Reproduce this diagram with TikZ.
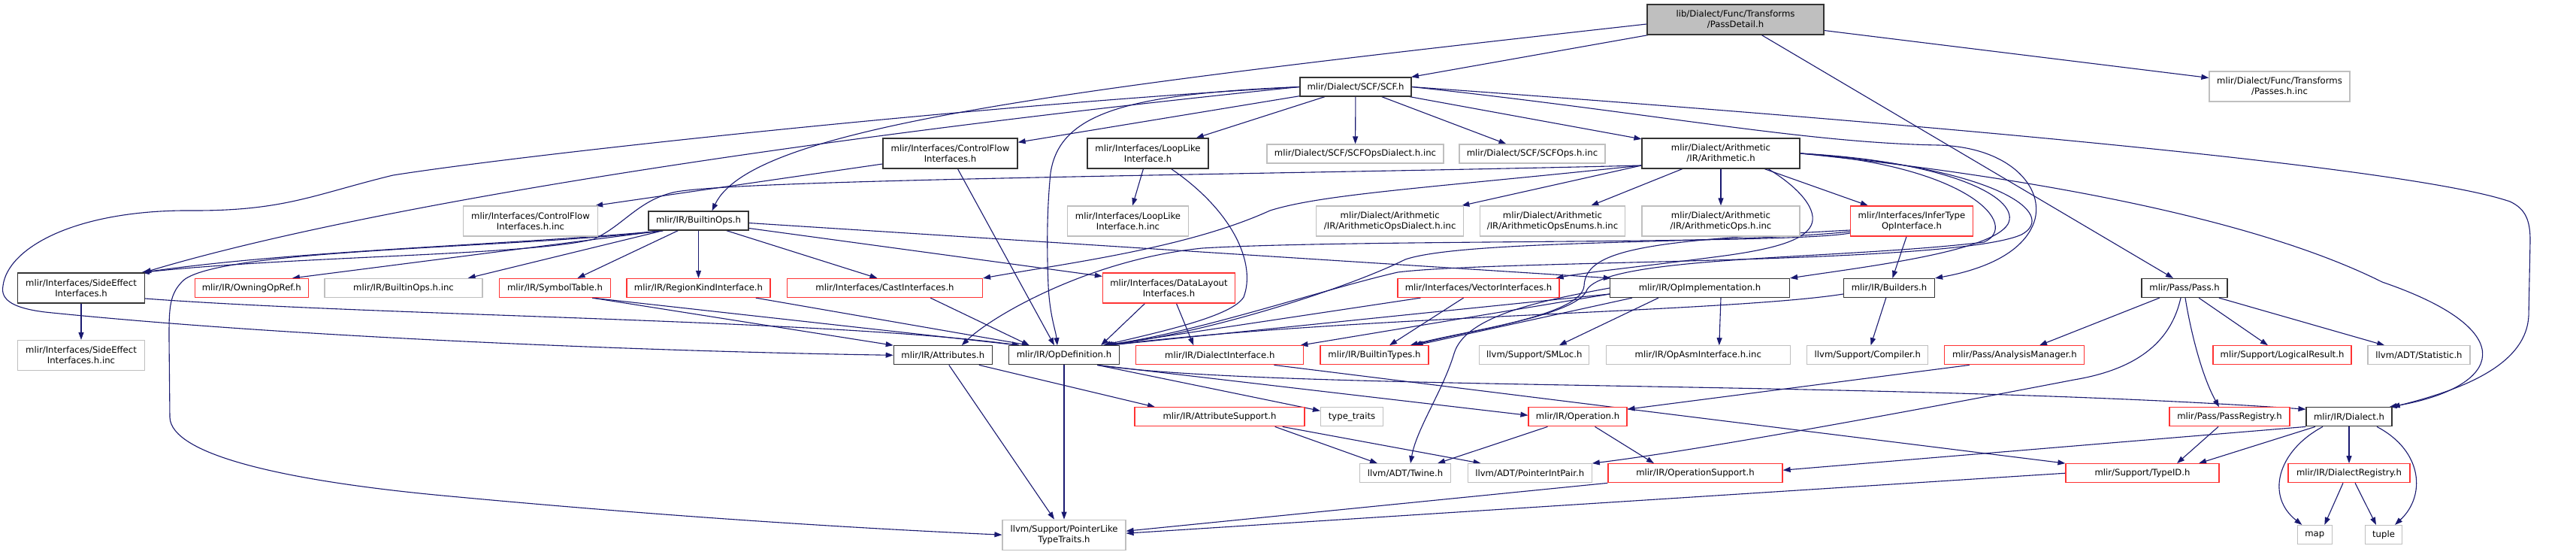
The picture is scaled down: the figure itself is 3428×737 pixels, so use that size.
\documentclass[tikz,border=0pt]{standalone}
\usepackage{fontspec}
\setmainfont{DejaVu Sans}
\usetikzlibrary{arrows.meta}
\definecolor{edgec}{HTML}{191970}
\definecolor{grayb}{HTML}{BFBFBF}
\definecolor{redb}{HTML}{FF3333}
\pgfdeclarelayer{bgl}
\pgfdeclarelayer{edl}
\pgfsetlayers{bgl,edl,main}
\begin{document}
\begin{tikzpicture}[x=1pt,y=-1pt,
  base/.style={draw, line width=1.2pt, inner sep=0pt, align=center, fill=white, text=black,
    font=\fontsize{11.67}{14}\selectfont},
  blk/.style={base, draw=black!80},
  gry/.style={base, draw=grayb},
  rd/.style={base, draw=redb},
  root/.style={base, draw=black!80, fill=grayb},
  e/.style={draw=edgec, line width=1.1pt, -{Triangle[length=10pt,width=7pt]}}]
\begin{pgfonlayer}{bgl}
\fill[white] (0,0) rectangle (3428,737);
\end{pgfonlayer}
\useasboundingbox (0,0) rectangle (3428,737);

% row 1-2
\node[root, minimum width=235pt, minimum height=40pt] (PD) at (2309.5,26) {lib/Dialect/Func/Transforms\\/PassDetail.h};
\node[blk, minimum width=148pt, minimum height=25pt] (SCF) at (1804,115.5) {mlir/Dialect/SCF/SCF.h};
\node[gry, minimum width=187pt, minimum height=40pt] (PINC) at (3033.5,115) {mlir/Dialect/Func/Transforms\\/Passes.h.inc};
% row 3
\node[blk, minimum width=179pt, minimum height=40pt] (CF) at (1264.5,204) {mlir/Interfaces/ControlFlow\\Interfaces.h};
\node[blk, minimum width=161pt, minimum height=40pt] (LL) at (1527.5,204) {mlir/Interfaces/LoopLike\\Interface.h};
\node[gry, minimum width=235pt, minimum height=25pt] (SCFD) at (1803.5,204.5) {mlir/Dialect/SCF/SCFOpsDialect.h.inc};
\node[gry, minimum width=194pt, minimum height=25pt] (SCFO) at (2039,204.5) {mlir/Dialect/SCF/SCFOps.h.inc};
\node[blk, minimum width=210pt, minimum height=40pt] (AR) at (2290,204) {mlir/Dialect/Arithmetic\\/IR/Arithmetic.h};
% row 4
\node[gry, minimum width=179pt, minimum height=40pt] (CFINC) at (706,294) {mlir/Interfaces/ControlFlow\\Interfaces.h.inc};
\node[blk, minimum width=133pt, minimum height=25pt] (BO) at (929.5,293.5) {mlir/IR/BuiltinOps.h};
\node[gry, minimum width=161pt, minimum height=40pt] (LLINC) at (1501,294) {mlir/Interfaces/LoopLike\\Interface.h.inc};
\node[gry, minimum width=196pt, minimum height=40pt] (ARD) at (1849.7,294) {mlir/Dialect/Arithmetic\\/IR/ArithmeticOpsDialect.h.inc};
\node[gry, minimum width=193pt, minimum height=40pt] (ARE) at (2066,294) {mlir/Dialect/Arithmetic\\/IR/ArithmeticOpsEnums.h.inc};
\node[gry, minimum width=210pt, minimum height=40pt] (ARO) at (2290,294) {mlir/Dialect/Arithmetic\\/IR/ArithmeticOps.h.inc};
\node[rd, minimum width=163pt, minimum height=40pt] (IT) at (2544,294) {mlir/Interfaces/InferType\\OpInterface.h};
% row 5
\node[blk, minimum width=169pt, minimum height=40pt] (SE) at (108,383) {mlir/Interfaces/SideEffect\\Interfaces.h};
\node[rd, minimum width=151pt, minimum height=25pt] (OWN) at (334.8,383) {mlir/IR/OwningOpRef.h};
\node[gry, minimum width=210pt, minimum height=25pt] (BOINC) at (537,383) {mlir/IR/BuiltinOps.h.inc};
\node[rd, minimum width=148pt, minimum height=25pt] (SYM) at (738.5,383) {mlir/IR/SymbolTable.h};
\node[rd, minimum width=191pt, minimum height=25pt] (RK) at (929.5,383) {mlir/IR/RegionKindInterface.h};
\node[rd, minimum width=260pt, minimum height=25pt] (CI) at (1177.5,383) {mlir/Interfaces/CastInterfaces.h};
\node[rd, minimum width=176pt, minimum height=40pt] (DL) at (1555.5,383) {mlir/Interfaces/DataLayout\\Interfaces.h};
\node[rd, minimum width=215pt, minimum height=25pt] (VI) at (1967.5,383) {mlir/Interfaces/VectorInterfaces.h};
\node[blk, minimum width=239pt, minimum height=25pt] (OI) at (2262,383) {mlir/IR/OpImplementation.h};
\node[blk, minimum width=121pt, minimum height=25pt] (BU) at (2514,383) {mlir/IR/Builders.h};
\node[blk, minimum width=114pt, minimum height=25pt] (PASS) at (2907,383) {mlir/Pass/Pass.h};
% row 6
\node[gry, minimum width=169pt, minimum height=40pt] (SEINC) at (108,472.5) {mlir/Interfaces/SideEffect\\Interfaces.h.inc};
\node[blk, minimum width=131pt, minimum height=25pt] (ATTR) at (1254.8,472.3) {mlir/IR/Attributes.h};
\node[blk, minimum width=147pt, minimum height=25pt] (OPD) at (1416,472.3) {mlir/IR/OpDefinition.h};
\node[rd, minimum width=223pt, minimum height=25pt] (DINT) at (1623.3,472.3) {mlir/IR/DialectInterface.h};
\node[rd, minimum width=144pt, minimum height=25pt] (BT) at (1829,472.3) {mlir/IR/BuiltinTypes.h};
\node[gry, minimum width=146pt, minimum height=25pt] (SMLOC) at (2041.8,472.3) {llvm/Support/SMLoc.h};
\node[gry, minimum width=245pt, minimum height=25pt] (OPASM) at (2259.8,472.3) {mlir/IR/OpAsmInterface.h.inc};
\node[gry, minimum width=161pt, minimum height=25pt] (COMP) at (2485.3,472.3) {llvm/Support/Compiler.h};
\node[rd, minimum width=186pt, minimum height=25pt] (AM) at (2680.8,472.3) {mlir/Pass/AnalysisManager.h};
\node[rd, minimum width=184pt, minimum height=25pt] (LR) at (3037,472.3) {mlir/Support/LogicalResult.h};
\node[gry, minimum width=136pt, minimum height=25pt] (STAT) at (3219,472.3) {llvm/ADT/Statistic.h};
% row 7
\node[rd, minimum width=226pt, minimum height=25pt] (ATTRS) at (1623,554.3) {mlir/IR/AttributeSupport.h};
\node[gry, minimum width=83pt, minimum height=25pt] (TT) at (1799,554.3) {type\_traits};
\node[rd, minimum width=131pt, minimum height=25pt] (OP) at (2099.5,554.3) {mlir/IR/Operation.h};
\node[rd, minimum width=160pt, minimum height=25pt] (PR) at (2967,554.3) {mlir/Pass/PassRegistry.h};
\node[blk, minimum width=114pt, minimum height=25pt] (DI) at (3126,554.3) {mlir/IR/Dialect.h};
% row 8
\node[gry, minimum width=121pt, minimum height=25pt] (TWINE) at (1870,629.2) {llvm/ADT/Twine.h};
\node[gry, minimum width=165pt, minimum height=25pt] (PIP) at (2035.7,629.2) {llvm/ADT/PointerIntPair.h};
\node[rd, minimum width=232pt, minimum height=25pt] (OPS) at (2256,629.2) {mlir/IR/OperationSupport.h};
\node[rd, minimum width=204pt, minimum height=25pt] (TYPEID) at (2851,629.2) {mlir/Support/TypeID.h};
\node[rd, minimum width=162pt, minimum height=25pt] (DREG) at (3126,629.2) {mlir/IR/DialectRegistry.h};
% row 9
\node[gry, minimum width=164pt, minimum height=40pt] (PLT) at (1416,711.2) {llvm/Support/PointerLike\\TypeTraits.h};
\node[gry, minimum width=46pt, minimum height=25pt] (MAP) at (3080.3,711) {map};
\node[gry, minimum width=49pt, minimum height=25pt] (TUPLE) at (3172,711) {tuple};

\begin{pgfonlayer}{edl}
% PassDetail
\draw[e] (PD) -- (SCF);
\draw[e] (PD) -- (PINC);
\draw[e] (PD) -- ([xshift=-15pt]PASS.north);
\draw[e] ([yshift=-6pt]PD.west) .. controls (1400,120) and (1000,170) .. ([xshift=18pt]BO.north);
% SCF
\draw[e] (SCF) -- (SCFD);
\draw[e] (SCF) -- (SCFO);
\draw[e] (SCF) -- (AR);
\draw[e] (SCF) -- (LL);
\draw[e] (SCF) -- (CF);
\draw[e] (SCF.west) .. controls (1100,180) and (500,270) .. ([xshift=-2pt]SE.north east);
\draw[e] (SCF.west) .. controls (1300,140) and (700,205) .. (523,233) .. controls (420,258) and (380,280) .. (260,280) .. controls (100,278) and (10,330) .. (4,380) .. controls (0,400) and (20,410) .. (60,415) .. controls (400,450) and (900,468) .. (ATTR.west);
\draw[e] (SCF.west) .. controls (1500,125) and (1410,150) .. (1398,230) .. controls (1393,280) and (1393,330) .. (1395,380) .. controls (1397,420) and (1405,440) .. ([xshift=-9pt]OPD.north);
\draw[e] (SCF.east) .. controls (2500,160) and (3200,220) .. (3340,268) .. controls (3362,278) and (3367,295) .. (3367,320) -- (3365,420) .. controls (3362,480) and (3290,515) .. (DI.north east);
\draw[e] (SCF.east) .. controls (2200,150) and (2400,190) .. (2580,193) .. controls (2680,196) and (2725,255) .. (2705,300) .. controls (2685,345) and (2620,362) .. (BU.north east);
% Arithmetic
\draw[e] (AR) -- (ARO);
\draw[e] (AR) -- (IT);
\draw[e] (AR) -- (ARE);
\draw[e] ([yshift=-16pt]AR.west) -- ([xshift=-3pt]ARD.north east);
\draw[e] ([yshift=-16pt]AR.west) .. controls (1900,250) and (1760,258) .. (1690,280) .. controls (1580,330) and (1420,350) .. (CI.north east);
\draw[e] ([yshift=-16pt]AR.west) .. controls (1700,232) and (1000,238) .. (900,255) .. controls (850,265) and (830,300) .. (790,318) .. controls (700,340) and (400,340) .. ([xshift=-5pt]SE.north east);
\draw[e] (AR.east) .. controls (2600,215) and (2690,265) .. (2672,298) .. controls (2650,335) and (2480,355) .. (OI.north east);
\draw[e] (AR.east) .. controls (2700,235) and (3000,290) .. (3170,375) .. controls (3360,440) and (3330,515) .. ([xshift=-4pt]DI.north east);
\draw[e] ([xshift=63pt]AR.south) .. controls (2395,250) and (2420,280) .. (2410,300) .. controls (2400,320) and (2360,332) .. (2280,342) .. controls (2180,355) and (2110,362) .. ([xshift=-5pt]VI.north east);
\draw[e] (AR.east) .. controls (2660,222) and (2740,285) .. (2690,312) .. controls (2600,352) and (2000,345) .. (1860,362) .. controls (1760,385) and (1600,440) .. ([xshift=-20pt]OPD.north east);
\draw[e] (AR.east) .. controls (2620,220) and (2690,300) .. (2640,322) .. controls (2450,345) and (2140,340) .. (2112,385) .. controls (2100,420) and (1950,440) .. ([xshift=-25pt]BT.north east);
% InferType
\draw[e] (IT) -- (BU);
\draw[e] ([yshift=-16pt]IT.west) .. controls (2380,325) and (1800,318) .. (1600,330) .. controls (1450,345) and (1320,420) .. ([xshift=25pt]ATTR.north);
\draw[e] ([yshift=-14pt]IT.west) .. controls (2300,325) and (1950,318) .. (1870,345) .. controls (1800,380) and (1620,440) .. ([xshift=-18pt]OPD.north east);
\draw[e] ([yshift=-12pt]IT.west) .. controls (2200,320) and (2110,330) .. (2108,380) .. controls (2105,420) and (1950,440) .. ([xshift=-20pt]BT.north east);
% BuiltinOps
\draw[e] ([xshift=20pt]BO.south west) -- ([xshift=-20pt]BOINC.north east);
\draw[e] ([xshift=40pt]BO.south west) -- ([xshift=30pt]SYM.north);
\draw[e] (BO) -- (RK);
\draw[e] ([xshift=-30pt]BO.south east) -- ([xshift=-10pt]CI.north);
\draw[e] ([yshift=-10pt]BO.east) -- ([yshift=-5pt]DL.north west);
\draw[e] ([yshift=-3pt]BO.east) -- ([xshift=2pt]OI.north west);
\draw[e] ([xshift=20pt]BO.south west) -- ([xshift=-22pt]OWN.north east);
\draw[e] ([xshift=20pt]BO.south west) .. controls (700,325) and (400,332) .. ([xshift=-4pt]SE.north east);
\draw[e] ([xshift=20pt]BO.south west) .. controls (700,330) and (300,330) .. (245,372) .. controls (225,390) and (225,410) .. (225,450) -- (226,555) .. controls (228,605) and (380,640) .. (600,660) .. controls (900,688) and (1150,703) .. (PLT.west);
% ControlFlow, LoopLike
\draw[e] ([yshift=-14pt]CF.west) -- ([xshift=-4pt]CFINC.north east);
\draw[e] ([xshift=10pt]CF.south) -- ([xshift=-13pt]OPD.north);
\draw[e] (LL) -- (LLINC);
\draw[e] ([xshift=-50pt]LL.south east) .. controls (1640,280) and (1672,350) .. (1655,395) .. controls (1640,420) and (1550,440) .. ([xshift=-22pt]OPD.north east);
% SideEffect
\draw[e] (SE) -- (SEINC);
\draw[e] ([yshift=-14pt]SE.east) .. controls (500,420) and (1100,425) .. ([xshift=15pt]OPD.north west);
% row 5 reds
\draw[e] ([xshift=-25pt]SYM.south east) -- ([xshift=15pt]OPD.north west);
\draw[e] ([xshift=-25pt]SYM.south east) -- (ATTR.north west);
\draw[e] ([xshift=-20pt]RK.south east) -- ([xshift=28pt]OPD.north west);
\draw[e] ([xshift=-70pt]CI.south east) -- ([xshift=28pt]OPD.north west);
\draw[e] ([xshift=-32pt]DL.south) -- ([xshift=-25pt]OPD.north east);
\draw[e] ([xshift=10pt]DL.south) -- ([xshift=-35pt]DINT.north);
\draw[e] ([xshift=-20pt]VI.south) -- ([xshift=20pt]BT.north);
\draw[e] ([xshift=-77pt]VI.south) -- ([xshift=-20pt]OPD.north east);
% OpImplementation
\draw[e] ([xshift=-55pt]OI.south) -- ([xshift=33pt]SMLOC.north);
\draw[e] ([xshift=28pt]OI.south) -- ([xshift=28pt]OPASM.north);
\draw[e] ([xshift=-90pt]OI.south) -- ([xshift=-18pt]BT.north east);
\draw[e] ([yshift=-8pt]OI.west) -- ([xshift=-15pt]OPD.north east);
\draw[e] ([yshift=-8pt]OI.west) -- ([xshift=-5pt]DINT.north east);
\draw[e] (OI.west) .. controls (2050,400) and (1950,420) .. (1935,470) .. controls (1920,520) and (1885,570) .. ([xshift=7pt]TWINE.north);
% Builders
\draw[e] (BU) -- (COMP);
\draw[e] ([yshift=-8pt]BU.west) .. controls (2300,415) and (1800,420) .. ([xshift=-15pt]OPD.north east);
% Pass
\draw[e] (PASS) -- (AM);
\draw[e] (PASS) -- (LR);
\draw[e] (PASS) -- (STAT);
\draw[e] ([xshift=1pt]PASS.south) .. controls (2915,440) and (2930,500) .. ([xshift=-14pt]PR.north);
\draw[e] ([xshift=-5pt]PASS.south) .. controls (2890,450) and (2850,490) .. (2760,505) .. controls (2500,555) and (2250,600) .. (PIP.north east);
% Attributes, OpDefinition
\draw[e] ([xshift=48pt]ATTR.south) -- ([xshift=-86pt]ATTRS.north);
\draw[e] ([xshift=8pt]ATTR.south) -- ([xshift=-13pt]PLT.north);
\draw[e] (OPD) -- (PLT);
\draw[e] ([xshift=-30pt]OPD.south east) -- ([yshift=8pt]TT.west);
\draw[e] ([xshift=-30pt]OPD.south east) -- ([yshift=2pt]OP.west);
\draw[e] ([xshift=-30pt]OPD.south east) .. controls (1700,520) and (2500,505) .. ([yshift=-3pt]DI.north west);
% row 6/7
\draw[e] ([xshift=-40pt]DINT.south east) -- (TYPEID.north west);
\draw[e] ([xshift=-60pt]AM.south) -- ([yshift=-3pt]OP.north east);
\draw[e] ([xshift=-40pt]ATTRS.south east) -- ([xshift=-37pt]TWINE.north);
\draw[e] ([xshift=-30pt]ATTRS.south east) -- ([xshift=-65pt]PIP.north);
\draw[e] ([xshift=-40pt]OP.south) -- ([xshift=43pt]TWINE.north);
\draw[e] ([xshift=23pt]OP.south) -- ([xshift=-55pt]OPS.north);
% Dialect
\draw[e] (DI.south west) -- ([yshift=4pt]OPS.east);
\draw[e] ([xshift=-45pt]DI.south) -- ([xshift=75pt]TYPEID.north);
\draw[e] (DI) -- (DREG);
\draw[e] ([xshift=-35pt]DI.south) .. controls (3030,600) and (3015,660) .. ([xshift=-17pt]MAP.north);
\draw[e] ([xshift=37pt]DI.south) .. controls (3225,600) and (3228,660) .. ([xshift=15pt]TUPLE.north);
\draw[e] ([xshift=-15pt]PR.south) -- ([xshift=46pt]TYPEID.north);
\draw[e] ([xshift=-8pt]DREG.south) -- ([xshift=13pt]MAP.north);
\draw[e] ([xshift=8pt]DREG.south) -- ([xshift=-10pt]TUPLE.north);
% to PointerLikeTypeTraits
\draw[e] (OPS.south west) -- ([yshift=5pt]PLT.east);
\draw[e] (TYPEID.west) -- ([yshift=2pt]PLT.east);
\end{pgfonlayer}
\end{tikzpicture}
\end{document}
